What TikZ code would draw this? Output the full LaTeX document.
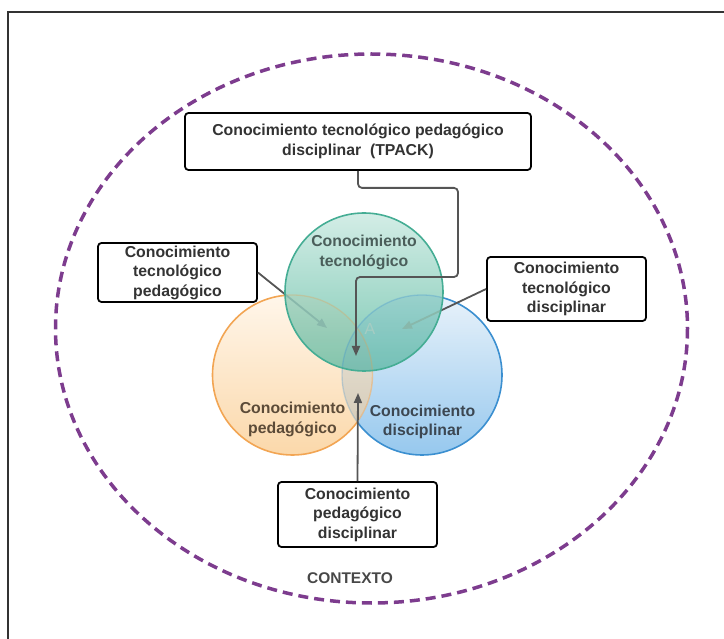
\documentclass[tikz,border=0pt]{standalone}
\usepackage{fontspec}
\setmainfont{Liberation Sans}
\usetikzlibrary{arrows.meta}
\definecolor{ctxpurple}{HTML}{7D3C8E}
\definecolor{tealedge}{HTML}{45AD94}
\definecolor{tealtop}{HTML}{D3EDE6}
\definecolor{tealbot}{HTML}{7CC8B3}
\definecolor{orangeedge}{HTML}{F2A553}
\definecolor{orangetop}{HTML}{FFF6EA}
\definecolor{orangebot}{HTML}{FBD8AA}
\definecolor{blueedge}{HTML}{3B8FD0}
\definecolor{bluetop}{HTML}{E8F2FA}
\definecolor{bluebot}{HTML}{96C8EE}
\definecolor{obtop}{HTML}{EEE8DC}
\definecolor{obbot}{HTML}{D0C6B2}
\definecolor{conn}{HTML}{555555}
\definecolor{connlight}{HTML}{88B8AB}
\definecolor{txtgrey}{HTML}{333333}
\definecolor{ttxt}{HTML}{4A5E5A}
\definecolor{otxt}{HTML}{5C4B38}
\definecolor{btxt}{HTML}{3C4752}
\tikzset{
  labelbox/.style={draw=black, line width=1.8pt, rounded corners=3.5pt, fill=white,
    align=center, inner sep=0pt, text=txtgrey,
    font=\fontsize{15.8}{19.5}\selectfont\bfseries},
  conline/.style={draw=conn, line width=1.8pt, -{Triangle[length=10pt,width=8pt]}},
  circtext/.style={align=center, font=\fontsize{15.8}{19.5}\selectfont\bfseries},
}
\begin{document}
\begin{tikzpicture}[x=1pt,y=-1pt]
\useasboundingbox (0,0) rectangle (724,639);
% frame
\draw[line width=1.5pt, draw=txtgrey] (724,12) -- (8,12) -- (8,639);
% context ellipse
\draw[ctxpurple, line width=3.5pt, dash pattern=on 10pt off 6pt]
  (371.5,328.5) ellipse [x radius=316, y radius=274.5];
\node[font=\fontsize{15.5}{18}\selectfont\bfseries, text=txtgrey!90!white] (ctx) at (350,578) {CONTEXTO};
% blue and orange circles
\shade[top color=bluetop, bottom color=bluebot] (422,375) circle [radius=80];
\shade[top color=orangetop, bottom color=orangebot] (292.5,375) circle [radius=80];
\begin{scope}
  \clip (292.5,375) circle [radius=80];
  \shade[top color=obtop, bottom color=obbot] (422,375) circle [radius=80];
  \draw[blueedge, line width=1.4pt, draw opacity=0.25] (422,375) circle [radius=80];
\end{scope}
\begin{scope}
  \clip (422,375) circle [radius=80];
  \draw[orangeedge, line width=1.4pt, draw opacity=0.45] (292.5,375) circle [radius=80];
\end{scope}
\begin{scope}[even odd rule]
  \clip (0,0) rectangle (724,639) (422,375) circle [radius=80];
  \draw[orangeedge, line width=1.6pt] (292.5,375) circle [radius=80];
\end{scope}
\begin{scope}[even odd rule]
  \clip (0,0) rectangle (724,639) (292.5,375) circle [radius=80];
  \draw[blueedge, line width=1.6pt] (422,375) circle [radius=80];
\end{scope}
% boxes
\node[labelbox, minimum width=346pt, minimum height=57pt] (tp) at (358,141.5)
  {Conocimiento tecnológico pedagógico\\disciplinar\ \ (TPACK)};
\node[labelbox, minimum width=159pt, minimum height=59pt] (lb) at (177.5,272.5)
  {Conocimiento\\tecnológico\\pedagógico};
\node[labelbox, minimum width=159pt, minimum height=64pt] (rb) at (566.5,289)
  {Conocimiento\\tecnológico\\disciplinar};
\node[labelbox, minimum width=159pt, minimum height=65pt] (bb) at (357.5,514.5)
  {Conocimiento\\pedagógico\\disciplinar};
% connectors to the two side boxes
\coordinate (ltip) at (327,328);
\coordinate (rtip) at (402,329);
\draw[conline] (lb.east) -- (ltip);
\draw[conline] (rb.west) -- (rtip);
% teal circle (opaque), then what shows through it
\shade[top color=tealtop, bottom color=tealbot] (364,292) circle [radius=79];
\begin{scope}
  \clip (364,292) circle [radius=79];
  \fill[orangeedge!60!brown, fill opacity=0.07] (292.5,375) circle [radius=80];
  \fill[blueedge, fill opacity=0.12] (422,375) circle [radius=80];
  \draw[orangeedge!80!brown, line width=1.3pt, draw opacity=0.3] (292.5,375) circle [radius=80];
  \draw[blueedge, line width=1.3pt, draw opacity=0.3] (422,375) circle [radius=80];
  \draw[conline, draw=connlight, fill=connlight] (lb.east) -- (ltip);
  \draw[conline, draw=connlight, fill=connlight] (rb.west) -- (rtip);
  \node[text=connlight!60!tealtop, font=\fontsize{16}{18}\selectfont] (faintA) at (370,329) {A};
\end{scope}
\draw[tealedge, line width=1.6pt] (364,292) circle [radius=79];
% circle texts
\node[circtext, text=ttxt] (ttext) at (364,252.5) {Conocimiento\\tecnológico};
\node[circtext, text=otxt] (otext) at (292.5,419.5) {Conocimiento\\pedagógico};
\node[circtext, text=btxt] (btext) at (422.5,422) {Conocimiento\\disciplinar};
% top and bottom connectors
\coordinate (ttip) at (356,356);
\coordinate (btip) at (358,393);
\draw[conline, rounded corners=4pt] (tp.south) -- ++(0,17) -| (458,277) -| (ttip);
\draw[conline] (bb.north) -- (btip);
\end{tikzpicture}
\end{document}
